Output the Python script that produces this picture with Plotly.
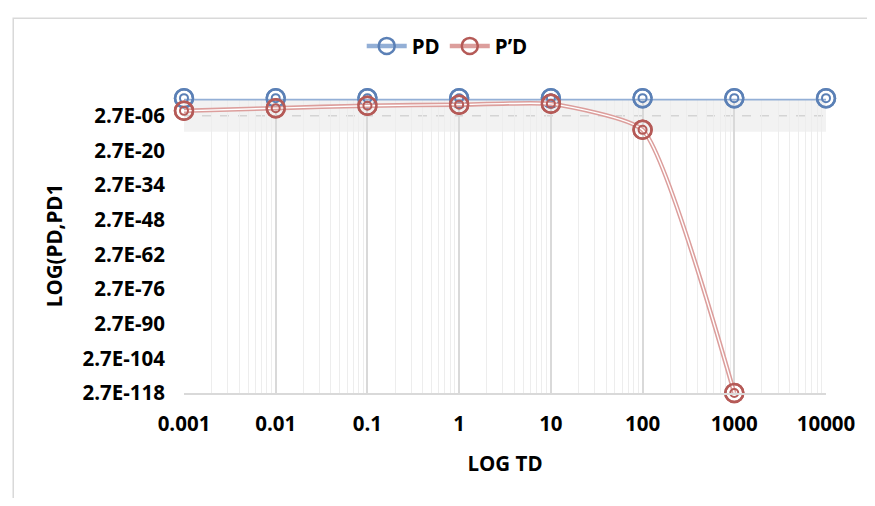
import math
import plotly.graph_objects as go

# ---- data ----
td = [0.001, 0.01, 0.1, 1, 10, 100, 1000, 10000]
pd_vals = [39, 39, 39, 39, 39, 39, 39, 39]
td_deriv = [0.001, 0.01, 0.1, 1, 10, 100, 1000]
pdd_vals = [2.8e-4, 3.5e-3, 3.5e-2, 9.1e-2, 1.9e-1, 5.9e-12, 2.7e-118]

x_tick_vals = [0.001, 0.01, 0.1, 1, 10, 100, 1000, 10000]
x_tick_text = ["0.001", "0.01", "0.1", "1", "10", "100", "1000", "10000"]
y_tick_vals = [2.7e-06, 2.7e-20, 2.7e-34, 2.7e-48, 2.7e-62, 2.7e-76, 2.7e-90, 2.7e-104, 2.7e-118]
y_tick_text = ["2.7E-06", "2.7E-20", "2.7E-34", "2.7E-48", "2.7E-62", "2.7E-76", "2.7E-90", "2.7E-104", "2.7E-118"]

# ---- styles ----
FONT = "Open Sans"
FS = 20.5
BLUE_RING = "#5b80b6"
BLUE_LINE = "#93afd6"
RED_RING = "#b55a57"
RED_LINE = "#dc9e9c"
Y_MIN_LOG = math.log10(2.7e-118)
Y_MAX_LOG = 1.65
BAND_BOTTOM_LOG = -12.0
SMOOTH = 0.5

fig = go.Figure()


def add_series(x, y, name, ring, line):
    # double (compound) line: thick coloured stroke with a thin white core
    fig.add_trace(go.Scatter(x=x, y=y, mode="lines+markers", name=name,
                             line=dict(color=line, width=4.5, shape="spline", smoothing=SMOOTH),
                             marker=dict(symbol="circle-open", size=18, color=ring,
                                         line=dict(width=2.5, color=ring)),
                             cliponaxis=False))
    fig.add_trace(go.Scatter(x=x, y=y, mode="lines", showlegend=False, hoverinfo="skip",
                             line=dict(color="white", width=1.4, shape="spline", smoothing=SMOOTH),
                             cliponaxis=False))
    fig.add_trace(go.Scatter(x=x, y=y, mode="markers", showlegend=False, hoverinfo="skip",
                             marker=dict(symbol="circle-open", size=18, color=ring,
                                         line=dict(width=2.5, color=ring)),
                             cliponaxis=False))
    fig.add_trace(go.Scatter(x=x, y=y, mode="markers", showlegend=False, hoverinfo="skip",
                             marker=dict(symbol="circle-open", size=8, color=ring,
                                         line=dict(width=2, color=ring)),
                             cliponaxis=False))


add_series(td, pd_vals, "PD", BLUE_RING, BLUE_LINE)
add_series(td_deriv, pdd_vals, "P\u2019D", RED_RING, RED_LINE)

# light band near the top of the plot and dashed level line
fig.add_shape(type="rect", xref="paper", yref="y", x0=0, x1=1,
              y0=10 ** BAND_BOTTOM_LOG, y1=10 ** Y_MAX_LOG,
              fillcolor="#f2f2f2", line=dict(width=0), layer="below")
fig.add_shape(type="line", xref="paper", yref="y", x0=0, x1=1,
              y0=y_tick_vals[0], y1=y_tick_vals[0],
              line=dict(color="#d4d4d4", width=1.5, dash="dash"), layer="below")
# chart outer border
fig.add_shape(type="rect", xref="paper", yref="paper", x0=-0.266, x1=1.2,
              y0=-0.5, y1=1.27, line=dict(color="#d9d9d9", width=1.5),
              fillcolor="rgba(0,0,0,0)", layer="below")

tfont = dict(family=FONT, size=FS, color="black", weight="bold")

fig.update_layout(
    width=859, height=490,
    margin=dict(l=176, r=39, t=90, b=105),
    paper_bgcolor="white", plot_bgcolor="white",
    font=tfont,
    showlegend=True,
    legend=dict(orientation="h", x=0.41, xanchor="center", y=1.176, yanchor="middle",
                font=tfont, bgcolor="rgba(0,0,0,0)", itemwidth=40),
    xaxis=dict(type="log", range=[-3, 4], tickvals=x_tick_vals, ticktext=x_tick_text,
               showgrid=True, gridcolor="#d9d9d9", gridwidth=1.5,
               minor=dict(dtick="D1", showgrid=True, gridcolor="#ededed", gridwidth=1, ticks=""),
               showline=True, linecolor="#d9d9d9", linewidth=1.5, ticks="",
               zeroline=False, ticklabelstandoff=12, tickfont=tfont,
               title=dict(text="LOG TD", standoff=20, font=tfont)),
    yaxis=dict(type="log", range=[Y_MIN_LOG, Y_MAX_LOG], tickvals=y_tick_vals, ticktext=y_tick_text,
               showgrid=False, showline=False, zeroline=False, ticks="",
               ticklabelstandoff=18, tickfont=tfont,
               title=dict(text="LOG(PD,PD1", standoff=14, font=tfont)),
)

fig.write_html("out.html")
